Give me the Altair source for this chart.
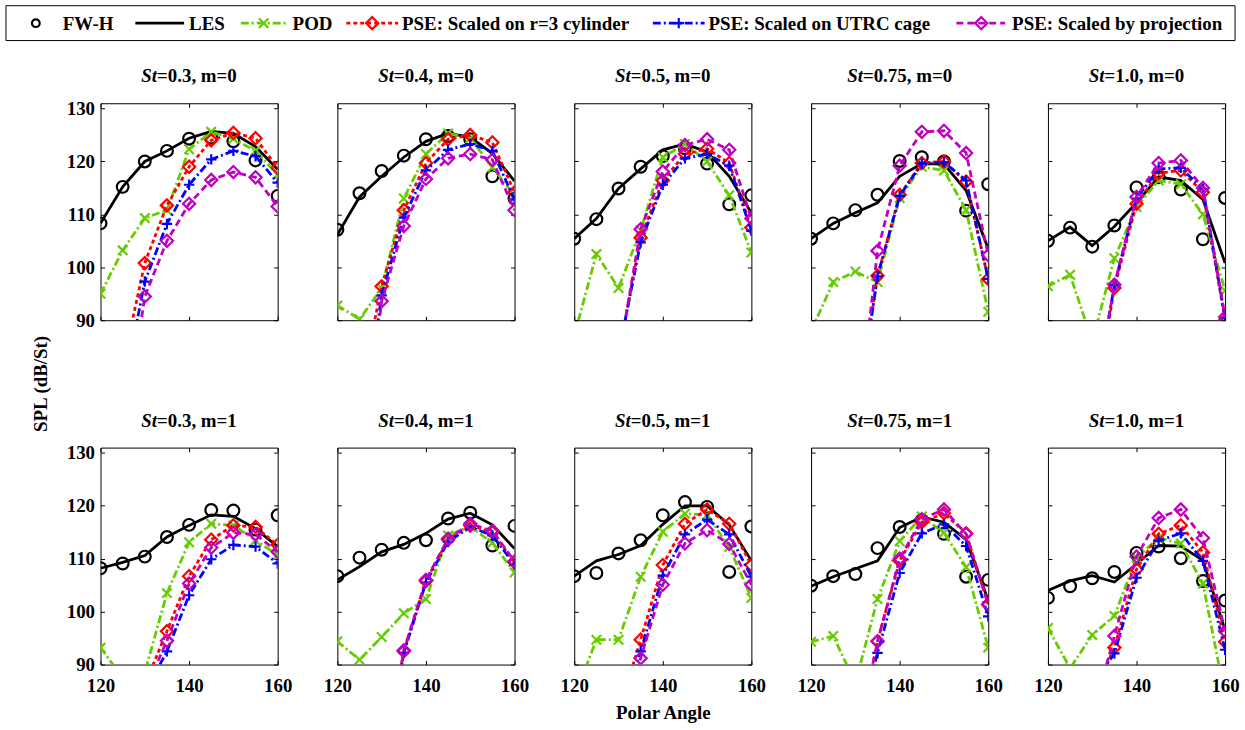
import altair as alt
import pandas as pd

N = None
ANGLES = [120, 125, 130, 135, 140, 145, 150, 155, 160]
ST_LABELS = ["0.3", "0.4", "0.5", "0.75", "1.0"]
M_LABELS = ["0", "1"]
SERIES = ["FW-H", "LES", "POD", "PSE: Scaled on r=3 cylinder",
          "PSE: Scaled on UTRC cage", "PSE: Scaled by projection"]

# panels in order: m=0 (St 0.3..1.0), then m=1 (St 0.3..1.0)
FWH = [
    [108.3, 115.2, 120.0, 122.0, 124.3, 124.5, 123.8, 120.2, 113.5],
    [107.1, 114.0, 118.2, 121.1, 124.2, 124.8, 124.2, 117.2, 113.0],
    [105.4, 109.1, 114.9, 119.0, 121.0, 122.5, 119.6, 111.9, 113.6],
    [105.4, 108.3, 110.8, 113.7, 120.1, 120.8, 120.0, 110.7, 115.7],
    [105.0, 107.5, 103.9, 107.9, 115.1, 117.0, 114.7, 105.3, 113.1],
    [108.2, 109.1, 110.4, 114.1, 116.4, 119.2, 119.1, 115.5, 118.2],
    [106.7, 110.2, 111.7, 113.0, 113.5, 117.6, 118.7, 112.5, 116.2],
    [106.7, 107.3, 111.0, 113.5, 118.2, 120.7, 119.8, 107.5, 116.1],
    [104.9, 106.7, 107.1, 112.0, 116.0, 117.3, 114.7, 106.6, 106.0],
    [102.6, 104.8, 106.3, 107.5, 111.1, 112.3, 110.1, 105.8, 102.1],
]
LES = [
    [108.3, 115.2, 120.0, 122.0, 124.4, 125.7, 125.3, 122.8, 118.5],
    [106.2, 113.3, 117.2, 120.8, 123.8, 125.3, 124.6, 121.5, 116.3],
    [105.4, 109.2, 114.9, 118.6, 122.2, 123.3, 121.8, 117.2, 110.3],
    [105.4, 108.3, 110.3, 112.2, 117.2, 119.6, 119.5, 114.5, 103.5],
    [105.0, 107.6, 104.1, 107.7, 112.2, 117.1, 116.4, 112.8, 100.8],
    [108.2, 109.3, 110.6, 114.1, 116.3, 118.3, 118.0, 115.7, 112.3],
    [106.0, 108.5, 111.3, 112.7, 114.8, 117.5, 118.6, 116.4, 111.9],
    [106.7, 109.6, 110.8, 112.5, 116.5, 120.0, 120.0, 116.4, 109.6],
    [104.8, 106.6, 108.1, 109.6, 115.9, 117.9, 116.9, 113.6, 102.1],
    [104.0, 105.8, 106.8, 105.6, 109.0, 112.5, 112.4, 109.7, 96.5],
]
POD = [
    [95.0, 103.2, 109.3, 110.8, 122.3, 125.6, 124.3, 122.0, 117.5],
    [92.8, 90.2, 96.0, 113.0, 121.4, 125.3, 124.4, 118.9, 113.6],
    [87.0, 102.5, 96.1, 107.0, 120.8, 123.3, 120.0, 113.6, 102.8],
    [88.0, 97.2, 99.2, 97.2, 113.1, 119.0, 118.3, 110.8, 91.6],
    [96.4, 98.6, 86.0, 101.7, 111.4, 116.4, 115.7, 110.0, 95.6],
    [93.2, 87.5, 88.5, 103.5, 113.1, 116.6, 116.3, 113.5, 110.7],
    [94.4, 90.9, 95.2, 99.7, 102.4, 114.4, 116.1, 113.0, 107.4],
    [83.7, 94.7, 94.7, 106.6, 115.1, 118.5, 118.3, 112.2, 102.6],
    [94.3, 95.4, 86.5, 102.4, 113.3, 118.0, 114.9, 108.4, 93.2],
    [96.9, 89.3, 95.6, 99.2, 110.2, 113.9, 112.9, 105.3, 84.0],
]
R3 = [
    [N, 81.5, 100.8, 111.7, 119.0, 124.0, 125.4, 124.4, 118.8],
    [N, 76.0, 96.4, 110.8, 119.7, 124.2, 125.0, 123.6, 114.2],
    [N, N, 83.3, 105.6, 116.4, 121.4, 122.4, 119.7, 107.5],
    [N, N, 70.0, 98.4, 113.7, 119.7, 120.0, 116.2, 97.8],
    [N, N, 71.0, 96.1, 112.0, 117.8, 118.3, 114.2, 90.0],
    [N, N, 86.2, 96.3, 106.7, 113.6, 116.3, 116.0, 112.6],
    [N, N, 68.0, 92.5, 105.8, 113.6, 116.3, 115.0, 109.3],
    [N, N, 81.0, 94.7, 108.8, 116.6, 119.3, 116.6, 108.8],
    [N, N, 74.0, 94.4, 109.6, 116.9, 118.6, 114.8, 101.3],
    [N, N, 84.0, 93.2, 108.0, 114.7, 116.3, 111.2, 94.3],
]
UTRC = [
    [N, 76.0, 97.3, 108.2, 115.6, 120.4, 122.0, 121.0, 116.0],
    [N, 65.0, 94.7, 109.4, 118.3, 122.2, 123.3, 122.0, 112.8],
    [N, N, 83.7, 104.7, 115.6, 120.6, 121.4, 119.2, 106.9],
    [N, N, 70.0, 98.3, 113.5, 119.6, 119.9, 116.4, 97.8],
    [N, N, 72.5, 96.6, 113.0, 118.6, 118.8, 114.8, 90.4],
    [N, N, 84.7, 92.5, 103.1, 109.9, 112.6, 112.3, 109.1],
    [N, N, 68.0, 92.2, 105.5, 113.2, 116.0, 114.4, 108.9],
    [N, N, 80.0, 92.5, 106.8, 114.6, 117.4, 114.6, 106.6],
    [N, N, 76.0, 92.2, 107.3, 114.8, 116.5, 112.4, 99.1],
    [N, N, 86.0, 92.1, 106.4, 113.4, 114.8, 109.6, 92.8],
]
PROJ = [
    [N, 66.0, 94.5, 105.0, 112.0, 116.5, 118.0, 117.0, 111.5],
    [N, 58.0, 93.6, 107.8, 116.7, 120.6, 121.4, 120.3, 110.8],
    [N, N, 82.6, 107.2, 118.1, 123.1, 124.2, 122.2, 109.2],
    [N, N, 66.6, 103.1, 119.2, 125.6, 125.8, 121.6, 102.3],
    [N, N, 72.0, 96.7, 113.3, 119.7, 120.2, 115.0, 90.6],
    [N, N, 85.0, 94.5, 105.3, 112.1, 114.9, 114.6, 111.3],
    [N, N, 68.0, 92.7, 106.0, 113.8, 116.6, 115.3, 109.5],
    [N, N, 79.0, 91.2, 105.1, 112.9, 115.4, 112.8, 105.1],
    [N, N, 74.0, 94.4, 110.0, 117.5, 119.3, 114.7, 101.4],
    [N, N, 80.0, 95.4, 110.4, 117.7, 119.3, 113.9, 96.3],
]
SERIES_DATA = [FWH, LES, POD, R3, UTRC, PROJ]

# ---------------- styles / layout ----------------
W, H = 178, 218
COL_GAP, ROW_GAP = 60, 128
FONT = "Liberation Serif"
FS = 19
X_SCALE = alt.Scale(domain=[120, 160], nice=False, zero=False)
Y_SCALE = alt.Scale(domain=[90, 131], nice=False, zero=False)
X_TICKS = [120, 140, 160]
Y_TICKS = [90, 100, 110, 120, 130]

X_PATH = "M-1,-1L1,1M-1,1L1,-1"
PLUS_PATH = "M-1,0L1,0M0,-1L0,1"
COLORS = ["black", "black", "#66cc00", "#ff0000", "#0000ff", "#c000c0"]
DASHES = [None, [], [8, 3, 2, 3], [4, 3], [8, 3, 2, 3], [7, 4]]
SHAPES = ["circle", None, X_PATH, "diamond", PLUS_PATH, "diamond"]
SIZES = [140, 0, 90, 150, 110, 150]
LINE_W = 2.8
MARK_W = 2.2

# Times-bold like advance widths (per 1000 em) for centring the mixed-style titles
TB = {c: 500 for c in "0123456789"}
TB.update({".": 250, ",": 250, " ": 250, "=": 570, "m": 833})
ST_ITALIC_W = (556 + 278) * FS / 1000


def text_w(s):
    return sum(TB.get(ch, 500) for ch in s) * FS / 1000


def series_df(values):
    return pd.DataFrame({"angle": ANGLES, "value": values}).dropna()


def xy(xaxis=None, yaxis=None):
    return dict(
        x=alt.X("angle:Q", scale=X_SCALE, axis=xaxis),
        y=alt.Y("value:Q", scale=Y_SCALE, axis=yaxis),
    )


def tick_axis(orient, offset, values):
    return alt.Axis(orient=orient, offset=offset, values=values, labels=False,
                    ticks=True, tickSize=4, tickWidth=1, tickColor="black",
                    domain=False, grid=False, title=None)


# legend layout (pixels relative to the top-left panel's plot origin)
LEG_BOX = (-95, 1140, -98, -63)
LEG_LINE = [None, (35, 84), (141, 187), (247, 299), (555, 607), (860, 909)]
LEG_MARK = [-65, None, 164, 273, 581, 885]
LEG_TEXT = [-38, 89, 193, 303, 611, 916]


def legend_layers():
    dummy = pd.DataFrame({"k": [0]})
    ly = (LEG_BOX[2] + LEG_BOX[3]) / 2
    out = [alt.Chart(dummy).mark_rect(fill="transparent", stroke="black", strokeWidth=1).encode(
        x=alt.value(LEG_BOX[0]), x2=alt.value(LEG_BOX[1]),
        y=alt.value(LEG_BOX[2]), y2=alt.value(LEG_BOX[3]))]
    for s, name in enumerate(SERIES):
        if LEG_LINE[s] is not None:
            kw = dict(color=COLORS[s], strokeWidth=LINE_W)
            if DASHES[s]:
                kw["strokeDash"] = DASHES[s]
            out.append(alt.Chart(dummy).mark_rule(**kw).encode(
                x=alt.value(LEG_LINE[s][0]), x2=alt.value(LEG_LINE[s][1]), y=alt.value(ly)))
        if LEG_MARK[s] is not None:
            out.append(alt.Chart(dummy).mark_point(
                shape=SHAPES[s], size=(60 if s == 0 else SIZES[s]), filled=False,
                color=COLORS[s], strokeWidth=MARK_W, opacity=1).encode(
                x=alt.value(LEG_MARK[s]), y=alt.value(ly)))
        out.append(alt.Chart(dummy).mark_text(
            text=name, font=FONT, fontSize=FS, fontWeight="bold", color="black",
            align="left", baseline="middle").encode(x=alt.value(LEG_TEXT[s]), y=alt.value(ly + 1)))
    return out


def panel(r, c):
    idx = r * 5 + c
    base = series_df(LES[idx])
    xmain = alt.Axis(orient="bottom", values=X_TICKS, labels=(r == 1), ticks=False,
                     domain=False, grid=False, labelPadding=12, titlePadding=8,
                     labelFlush=False,
                     title=("Polar Angle" if (r == 1 and c == 2) else None))
    ymain = alt.Axis(orient="left", values=Y_TICKS, labels=(c == 0), ticks=False,
                     domain=False, grid=False, labelPadding=6, labelFlush=False, title=None)
    layers = [
        alt.Chart(base).mark_point(opacity=0, clip=True).encode(**xy(xmain, ymain)),
        alt.Chart(base).mark_point(opacity=0, clip=True).encode(
            **xy(tick_axis("top", -H, X_TICKS), tick_axis("right", -W, Y_TICKS))),
        alt.Chart(base).mark_point(opacity=0, clip=True).encode(
            **xy(tick_axis("bottom", -H, X_TICKS), tick_axis("left", -W, Y_TICKS))),
    ]
    for s, data in enumerate(SERIES_DATA):
        df = series_df(data[idx])
        if DASHES[s] is not None:
            kw = dict(color=COLORS[s], strokeWidth=LINE_W, clip=True)
            if DASHES[s]:
                kw["strokeDash"] = DASHES[s]
            layers.append(alt.Chart(df).mark_line(**kw).encode(**xy()))
        if SHAPES[s] is not None:
            layers.append(alt.Chart(df).mark_point(
                shape=SHAPES[s], size=SIZES[s], filled=False, color=COLORS[s],
                strokeWidth=MARK_W, opacity=1, clip=True).encode(**xy()))
    # panel title with italic "St"
    rest = f"={ST_LABELS[c]}, m={M_LABELS[r]}"
    tdf = pd.DataFrame({"st": ["St"], "rest": [rest]})
    total = ST_ITALIC_W + text_w(rest)
    xsplit = W / 2 - total / 2 + ST_ITALIC_W
    tstyle = dict(font=FONT, fontSize=FS, fontWeight="bold", color="black", baseline="alphabetic")
    layers.append(alt.Chart(tdf).mark_text(align="right", fontStyle="italic", **tstyle).encode(
        text="st:N", x=alt.value(xsplit), y=alt.value(-21)))
    layers.append(alt.Chart(tdf).mark_text(align="left", **tstyle).encode(
        text="rest:N", x=alt.value(xsplit), y=alt.value(-21)))
    if r == 0 and c == 0:
        ydf = pd.DataFrame({"t": ["SPL (dB/St)"]})
        layers.append(alt.Chart(ydf).mark_text(
            font=FONT, fontSize=FS, fontWeight="bold", color="black", angle=270,
            align="center", baseline="middle").encode(
            text="t:N", x=alt.value(-60), y=alt.value(H + ROW_GAP / 2)))
        layers.extend(legend_layers())
    return alt.layer(*layers).resolve_axis(x="independent", y="independent").properties(
        width=W, height=H)


panels = [panel(r, c) for r in range(2) for c in range(5)]
chart = alt.concat(*panels, columns=5, spacing={"row": ROW_GAP, "column": COL_GAP},
                   bounds="flush").properties(
    padding={"left": 5, "top": 3, "right": 5, "bottom": 5}
).configure_view(stroke="black", strokeWidth=1).configure_axis(
    labelFont=FONT, labelFontSize=FS, labelFontWeight="bold", labelColor="black",
    titleFont=FONT, titleFontSize=FS, titleFontWeight="bold", titleColor="black", grid=False
)

chart.save("out.html", embed_options={"renderer": "svg", "actions": False})
